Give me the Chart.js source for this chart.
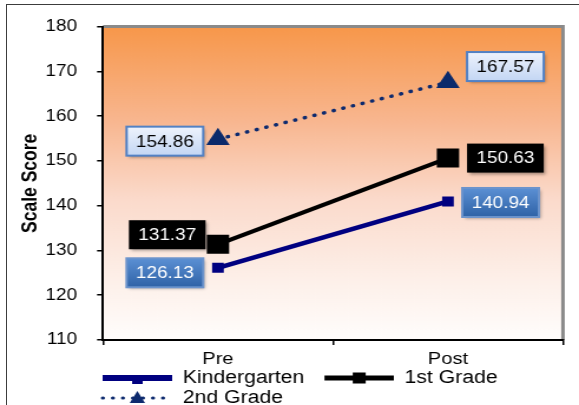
<!DOCTYPE html>
<html>
<head>
<meta charset="utf-8">
<script src="https://cdn.jsdelivr.net/npm/chart.js@4"></script>
<style>
  html, body { margin: 0; padding: 0; background: #fff; overflow: hidden; width: 579px; height: 405px; }
  body { position: relative; }
  #scoreChart { display: block; }
  /* outer chart frame */
  #frame { position: absolute; left: 6px; top: 4px; width: 600px; height: 450px;
           border-top: 1.5px solid #3c3c3c; border-left: 1.5px solid #3c3c3c; pointer-events: none; }
</style>
</head>
<body>
<!-- drawn 491 wide and stretched out to 579 -->
<canvas id="scoreChart" width="491" height="420" style="width:579px;height:420px"></canvas>
<div id="frame"></div>
<script>
const categories = ["Pre", "Post"];
const kindergarten = [126.13, 140.94];
const firstGrade = [131.37, 150.63];
const secondGrade = [154.86, 167.57];
const yTicks = [110, 120, 130, 140, 150, 160, 170, 180];

const FONT = "'Liberation Sans', Arial, sans-serif";
const NAVY = "#000080";
const DOT_NAVY = "#0d2a6e";

// little line + marker pictures for the legend entries
function legendIcon(color, lineWidth, dash, marker) {
  const c = document.createElement("canvas");
  c.width = 74;
  c.height = 20;
  const g = c.getContext("2d");
  g.strokeStyle = color;
  g.fillStyle = color;
  g.lineWidth = lineWidth;
  g.setLineDash(dash);
  g.lineCap = dash.length ? "round" : "butt";
  g.beginPath();
  g.moveTo(15, 10);
  g.lineTo(74, 10);
  g.stroke();
  g.setLineDash([]);
  if (marker === "smallRect") {
    g.fillRect(40, 8, 9, 8);
  } else if (marker === "rect") {
    g.fillRect(39, 4.5, 11, 11);
  } else if (marker === "triangle") {
    g.beginPath();
    g.moveTo(44.5, 3);
    g.lineTo(51, 15);
    g.lineTo(38, 15);
    g.closePath();
    g.fill();
  }
  return c;
}

const icons = [
  legendIcon(NAVY, 6, [], "smallRect"),
  legendIcon("#000", 5, [], "rect"),
  legendIcon(DOT_NAVY, 3, [0.5, 8], "triangle"),
];

// gradient plot background and the grey frame edges
const plotBackground = {
  id: "plotBackground",
  afterLayout(chart) {
    // legend rows start under the plot, not under the axis title
    chart.legend.left = 70;
  },
  beforeDraw(chart) {
    const { ctx, chartArea: a } = chart;
    ctx.save();
    const grad = ctx.createLinearGradient(0, a.top, 0, a.bottom);
    grad.addColorStop(0, "#f7974a");
    grad.addColorStop(0.3, "#f8b68f");
    grad.addColorStop(0.55, "#fbdacb");
    grad.addColorStop(0.8, "#fdefe8");
    grad.addColorStop(1, "#fffdfc");
    ctx.fillStyle = grad;
    ctx.fillRect(a.left, a.top, a.right - a.left, a.bottom - a.top);

    ctx.strokeStyle = "#8a8a8a";
    ctx.lineWidth = 3;
    ctx.beginPath();
    ctx.moveTo(a.left, a.top);
    ctx.lineTo(a.right, a.top);
    ctx.lineTo(a.right, a.bottom);
    ctx.stroke();
    ctx.restore();
  },
};

// boxed value labels next to each marker
const valueBoxes = {
  id: "valueBoxes",
  afterDatasetsDraw(chart) {
    const { ctx } = chart;
    const w = 65, h = 29;
    chart.data.datasets.forEach((ds, di) => {
      const box = ds.valueBox;
      chart.getDatasetMeta(di).data.forEach((pt, i) => {
        const cx = pt.x + box.dx[i];
        const cy = pt.y + box.dy[i];
        const x = cx - w / 2, y = cy - h / 2;
        ctx.save();
        let fill = box.fill;
        if (Array.isArray(fill)) {
          const g = ctx.createLinearGradient(0, y, 0, y + h);
          g.addColorStop(0, fill[0]);
          g.addColorStop(1, fill[1]);
          fill = g;
        }
        ctx.shadowColor = "rgba(0,0,0,0.35)";
        ctx.shadowBlur = 3;
        ctx.shadowOffsetX = 2;
        ctx.shadowOffsetY = 2;
        ctx.fillStyle = fill;
        ctx.fillRect(x, y, w, h);
        ctx.shadowColor = "transparent";
        if (box.border) {
          ctx.strokeStyle = box.border;
          ctx.lineWidth = 2;
          ctx.strokeRect(x, y, w, h);
        }
        ctx.fillStyle = box.color;
        ctx.font = "16px " + FONT;
        ctx.textAlign = "center";
        ctx.textBaseline = "middle";
        ctx.fillText(ds.data[i].toFixed(2), cx, cy + 1);
        ctx.restore();
      });
    });
  },
};

new Chart(document.getElementById("scoreChart"), {
  type: "line",
  data: {
    labels: categories,
    datasets: [
      {
        label: "Kindergarten",
        data: kindergarten,
        borderColor: NAVY,
        backgroundColor: NAVY,
        borderWidth: 4.5,
        pointStyle: "rect",
        pointRadius: 7,
        pointBorderWidth: 0,
        valueBox: { fill: ["#5b90d4", "#2f62a6"], border: "#6b93cc", color: "#fff", dx: [-45, 44.6], dy: [5, 1] },
      },
      {
        label: "1st Grade",
        data: firstGrade,
        borderColor: "#000",
        backgroundColor: "#000",
        borderWidth: 4,
        pointStyle: "rect",
        pointRadius: 13.4,
        pointBorderWidth: 0,
        valueBox: { fill: "#000", border: null, color: "#fff", dx: [-43, 48.7], dy: [-9.6, 0] },
      },
      {
        label: "2nd Grade",
        data: secondGrade,
        borderColor: DOT_NAVY,
        backgroundColor: "#0b2a6b",
        borderWidth: 3.5,
        borderDash: [0.5, 8],
        borderCapStyle: "round",
        pointStyle: "triangle",
        pointRadius: 11.5,
        pointBorderWidth: 0,
        valueBox: { fill: ["#eef3fc", "#c3d6f4"], border: "#5281c4", color: "#000", dx: [-45, 48.7], dy: [2, -15.7] },
      },
    ],
  },
  options: {
    responsive: false,
    animation: false,
    layout: { padding: { top: 26, left: 16, right: 13.6, bottom: 3 } },
    scales: {
      x: {
        offset: true,
        grid: { offset: true, drawOnChartArea: false, tickLength: 5, color: "#000", lineWidth: 1.5 },
        border: { color: "#000", width: 2 },
        ticks: { color: "#000", padding: 4, font: { family: FONT, size: 17 } },
        afterFit(scale) { scale.height = 27; },
      },
      y: {
        min: yTicks[0],
        max: yTicks[yTicks.length - 1],
        ticks: { stepSize: 10, color: "#000", padding: 17, font: { family: FONT, size: 16 } },
        grid: { drawOnChartArea: false, tickLength: 5, color: "#000", lineWidth: 1.5 },
        border: { color: "#000", width: 2 },
        title: {
          display: true,
          text: "Scale Score",
          color: "#000",
          font: { family: FONT, size: 17.5, weight: "bold" },
          padding: 0,
        },
        afterFit(scale) { scale.width = 71.3; },
      },
    },
    plugins: {
      tooltip: { enabled: false },
      legend: {
        position: "bottom",
        align: "start",
        labels: {
          usePointStyle: true,
          pointStyleWidth: 74,
          padding: 2,
          color: "#000",
          font: { family: FONT, size: 18 },
          generateLabels(chart) {
            return chart.data.datasets.map((ds, i) => ({
              text: ds.label,
              pointStyle: icons[i],
              fillStyle: ds.borderColor,
              strokeStyle: ds.borderColor,
              lineWidth: 0,
              hidden: false,
              datasetIndex: i,
            }));
          },
        },
      },
    },
  },
  plugins: [plotBackground, valueBoxes],
});
</script>
</body>
</html>
